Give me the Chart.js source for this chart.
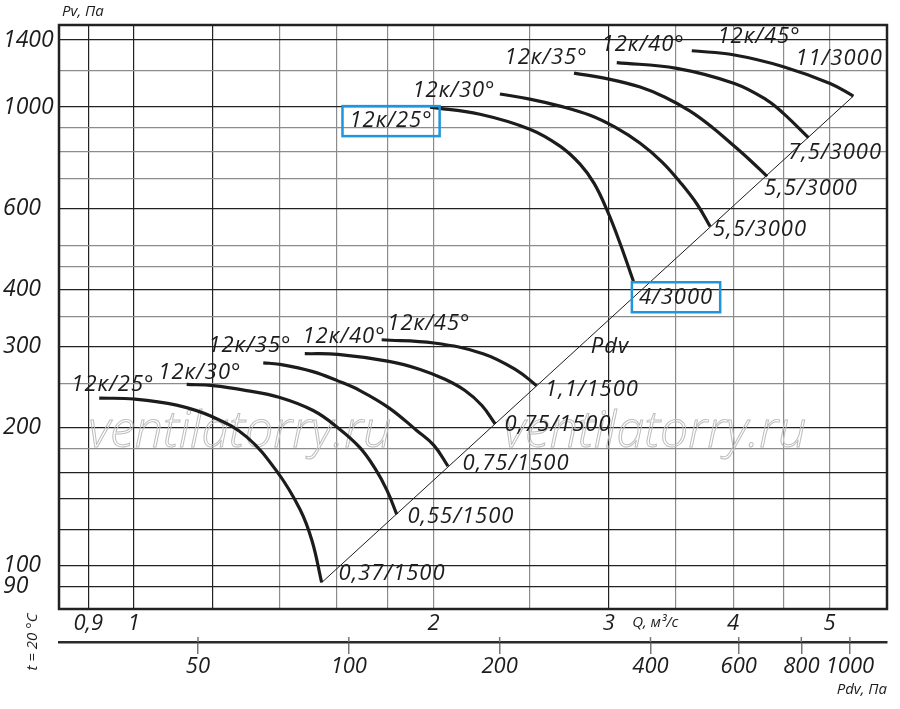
<!DOCTYPE html>
<html>
<head>
<meta charset="utf-8">
<script src="https://cdn.jsdelivr.net/npm/chart.js@4.4.1/dist/chart.umd.min.js"></script>
<style>
  html, body { margin: 0; padding: 0; background: #fff; }
  #wrap { width: 900px; height: 709px; }
</style>
</head>
<body>
<div id="wrap"><canvas id="chart" width="900" height="709"></canvas></div>
<script>
// Axis ticks (Q in m3/s, Pv in Pa, Pdv in Pa)
const xTicks = [0.9, 1, 1.2, 1.4, 1.6, 1.8, 2, 2.5, 3, 3.5, 4, 4.5, 5];
const xLabels = [0.9, 1, 2, 3, 4, 5];
const xDark = [0.9, 1, 1.2, 3];
const yTicks = [90, 100, 120, 140, 160, 180, 200, 250, 300, 350, 400, 450, 500, 600, 700, 800, 900, 1000, 1200, 1400];
const yLabels = [90, 100, 200, 300, 400, 600, 1000, 1400];
const yDark = [90, 100, 120, 140, 160, 200, 300, 400, 600, 1000, 1400];
const pdvTicks = [50, 100, 200, 400, 600, 800, 1000];

// 3000 rpm curves
const q_25_3000 = [1.984, 2.227, 2.499, 2.680, 2.807, 2.900, 2.988, 3.079, 3.176];
const pv_25_3000 = [1000, 965, 895, 822, 751, 682, 596, 505, 417];
const q_30_3000 = [2.332, 2.499, 2.680, 2.873, 3.044, 3.226, 3.394, 3.538, 3.680, 3.793];
const pv_30_3000 = [1068, 1041, 1005, 960, 904, 834, 759, 686, 614, 549];
const q_35_3000 = [2.768, 3.001, 3.226, 3.417, 3.621, 3.810, 3.990, 4.160, 4.327];
const pv_35_3000 = [1186, 1151, 1106, 1051, 980, 904, 830, 766, 706];
const q_40_3000 = [3.056, 3.511, 4.012, 4.324, 4.493, 4.761];
const pv_40_3000 = [1250, 1215, 1126, 1036, 969, 858];
const q_45_3000 = [3.635, 4.012, 4.493, 5.006, 5.283];
const pv_45_3000 = [1327, 1299, 1225, 1126, 1057];

// 1500 rpm curves
const q_25_1500 = [0.923, 1.00, 1.104, 1.201, 1.298, 1.391, 1.468, 1.510, 1.544];
const pv_25_1500 = [232, 231, 224, 211, 191, 161, 133, 113.4, 92];
const q_30_1500 = [1.130, 1.201, 1.298, 1.399, 1.514, 1.603, 1.687, 1.747, 1.796, 1.837];
const pv_30_1500 = [248.5, 247, 241, 233, 218, 200, 181, 163, 146, 129.5];
const q_35_1500 = [1.349, 1.399, 1.513, 1.603, 1.687, 1.804, 1.925, 2.002, 2.068];
const pv_35_1500 = [277, 275, 265, 253, 241, 221, 197, 183, 165];
const q_40_1500 = [1.485, 1.603, 1.804, 1.939, 2.054, 2.151, 2.237, 2.306];
const pv_40_1500 = [290, 289, 279, 268, 255, 241, 223.6, 204];
const q_45_1500 = [1.774, 2.002, 2.243, 2.427, 2.539];
const pv_45_1500 = [311, 306, 290, 266.5, 247];

// Pdv line
const q_pdv = [1.544, 5.283];
const pv_pdv = [91.9, 1057];

const curveLabels = [
  { text: '12к/25°', q: 1.813, pv: 932, boxed: true },
  { text: '12к/30°', q: 2.097, pv: 1084 },
  { text: '12к/35°', q: 2.595, pv: 1279 },
  { text: '12к/40°', q: 3.248, pv: 1366 },
  { text: '12к/45°', q: 4.247, pv: 1422 },
  { text: '11/3000', q: 5.111, pv: 1273 },
  { text: '7,5/3000', q: 5.064, pv: 797 },
  { text: '5,5/3000', q: 4.79, pv: 665 },
  { text: '5,5/3000', q: 4.257, pv: 539 },
  { text: '4/3000', q: 3.505, pv: 385, boxed: true },
  { text: '12к/25°', q: 0.9526, pv: 248.5 },
  { text: '12к/30°', q: 1.165, pv: 264 },
  { text: '12к/35°', q: 1.308, pv: 302 },
  { text: '12к/40°', q: 1.626, pv: 316 },
  { text: '12к/45°', q: 1.979, pv: 337.6 },
  { text: '1,1/1500', q: 2.886, pv: 242.3 },
  { text: '0,75/1500', q: 2.668, pv: 203.2 },
  { text: '0,75/1500', q: 2.421, pv: 167 },
  { text: '0,55/1500', q: 2.131, pv: 127.9 },
  { text: '0,37/1500', q: 1.817, pv: 96.1 },
  { text: 'Pdv', q: 3.008, pv: 300.8 }
];

const watermarks = [
  { text: 'ventilatorry.ru', q: 1.278, pv: 195 },
  { text: 'ventilatorry.ru', q: 3.338, pv: 195 }
];

const FONT = '"Open Sans", "DejaVu Sans", sans-serif';
const INK = '#1c1c1c';

const pts = (qs, ps) => qs.map((q, i) => ({ x: q, y: ps[i] }));
const curve = (qs, ps) => ({
  data: pts(qs, ps),
  showLine: true,
  borderColor: INK,
  borderWidth: 3.2,
  pointRadius: 0,
  tension: 0.4,
  fill: false
});

const chartTexts = {
  id: 'chartTexts',
  beforeDatasetsDraw(chart) {
    const { ctx, scales: { x, y } } = chart;
    ctx.save();
    ctx.font = `italic 300 50px ${FONT}`;
    ctx.strokeStyle = '#bdbdbd';
    ctx.lineWidth = 1;
    ctx.textAlign = 'center';
    ctx.textBaseline = 'middle';
    watermarks.forEach(w => ctx.strokeText(w.text, x.getPixelForValue(w.q), y.getPixelForValue(w.pv)));
    ctx.restore();
  },
  afterDatasetsDraw(chart) {
    const { ctx, chartArea: a, scales: { x, y, x2 } } = chart;
    ctx.save();
    // frame
    ctx.strokeStyle = '#222';
    ctx.lineWidth = 2.5;
    ctx.strokeRect(a.left, a.top, a.right - a.left, a.bottom - a.top);

    // small upward part of the Pdv ticks
    ctx.strokeStyle = '#777';
    ctx.lineWidth = 1.5;
    x2.ticks.forEach(t => {
      const px = x2.getPixelForValue(t.value);
      ctx.beginPath();
      ctx.moveTo(px, x2.top - 5);
      ctx.lineTo(px, x2.top);
      ctx.stroke();
    });

    // curve labels
    ctx.fillStyle = INK;
    ctx.textAlign = 'center';
    ctx.textBaseline = 'middle';
    ctx.font = `italic 22px ${FONT}`;
    ctx.letterSpacing = '1px';
    curveLabels.forEach(l => {
      const px = x.getPixelForValue(l.q);
      const py = y.getPixelForValue(l.pv);
      ctx.fillText(l.text, px, py);
      if (l.boxed) {
        const w = ctx.measureText(l.text).width + 14;
        ctx.strokeStyle = '#1f95dc';
        ctx.lineWidth = 2.5;
        ctx.strokeRect(px - w / 2, py - 15, w, 30);
      }
    });
    ctx.letterSpacing = '0px';

    // axis captions
    ctx.font = `italic 15px ${FONT}`;
    ctx.textAlign = 'left';
    ctx.fillText('Pv, Па', a.left + 3, a.top - 13);
    ctx.textAlign = 'center';
    ctx.fillText('Q, м³/с', x.getPixelForValue(3.34), a.bottom + 14);
    ctx.translate(a.left - 26, x2.top);
    ctx.rotate(-Math.PI / 2);
    ctx.fillText('t = 20 °C', 0, 0);
    ctx.restore();
  }
};

const gridColor = (dark) => (c) => (c.tick && dark.includes(c.tick.value)) ? '#222' : '#8c8c8c';

new Chart(document.getElementById('chart'), {
  type: 'scatter',
  data: {
    datasets: [
      curve(q_25_3000, pv_25_3000),
      curve(q_30_3000, pv_30_3000),
      curve(q_35_3000, pv_35_3000),
      curve(q_40_3000, pv_40_3000),
      curve(q_45_3000, pv_45_3000),
      curve(q_25_1500, pv_25_1500),
      curve(q_30_1500, pv_30_1500),
      curve(q_35_1500, pv_35_1500),
      curve(q_40_1500, pv_40_1500),
      curve(q_45_1500, pv_45_1500),
      { ...curve(q_pdv, pv_pdv), borderWidth: 1, tension: 0 }
    ]
  },
  options: {
    responsive: false,
    animation: false,
    devicePixelRatio: 1,
    layout: { padding: { left: 3, top: 25, right: 13, bottom: 0 } },
    plugins: { legend: { display: false }, tooltip: { enabled: false } },
    scales: {
      x: {
        type: 'logarithmic',
        position: 'bottom',
        weight: 0,
        min: 0.841,
        max: 5.71,
        afterBuildTicks: s => { s.ticks = xTicks.map(v => ({ value: v })); },
        afterFit: s => { s.height = 33; },
        ticks: {
          autoSkip: false,
          maxRotation: 0,
          padding: 2,
          color: INK,
          font: { family: FONT, size: 22, style: 'italic' },
          callback: v => xLabels.includes(v) ? String(v).replace('.', ',') : ''
        },
        grid: { color: gridColor(xDark), lineWidth: 1.2, drawTicks: false },
        border: { display: false }
      },
      x2: {
        type: 'logarithmic',
        position: 'bottom',
        weight: 1,
        min: 26.4,
        max: 1186,
        afterBuildTicks: s => { s.ticks = pdvTicks.map(v => ({ value: v })); },
        afterFit: s => { s.height = 67; },
        ticks: {
          autoSkip: false,
          maxRotation: 0,
          padding: 0,
          color: INK,
          font: { family: FONT, size: 22, style: 'italic' },
          callback: v => String(v)
        },
        grid: { drawOnChartArea: false, drawTicks: true, tickLength: 12, color: '#777', lineWidth: 1.5 },
        border: { display: true, color: '#2a2a2a', width: 2.5 },
        title: {
          display: true,
          text: 'Pdv, Па',
          align: 'end',
          color: INK,
          padding: { top: 0, bottom: 10 },
          font: { family: FONT, size: 15, style: 'italic' }
        }
      },
      y: {
        type: 'logarithmic',
        min: 80.5,
        max: 1510,
        afterBuildTicks: s => { s.ticks = yTicks.map(v => ({ value: v })); },
        afterFit: s => { s.width = 56; },
        ticks: {
          autoSkip: false,
          crossAlign: 'far',
          padding: 0,
          color: INK,
          font: { family: FONT, size: 23, style: 'italic' },
          callback: v => yLabels.includes(v) ? String(v) : ''
        },
        grid: { color: gridColor(yDark), lineWidth: 1.2, drawTicks: false },
        border: { display: false }
      }
    }
  },
  plugins: [chartTexts]
});
</script>
</body>
</html>
